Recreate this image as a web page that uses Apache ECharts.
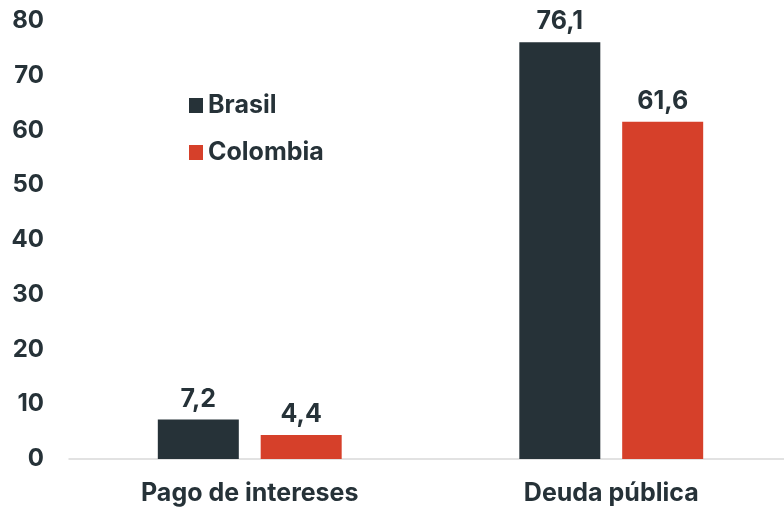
<!DOCTYPE html>
<html>
<head>
<meta charset="utf-8">
<script src="https://cdn.jsdelivr.net/npm/echarts@6/dist/echarts.min.js"></script>
<style>
  html, body { margin: 0; padding: 0; background: #fff; }
  #chart { width: 784px; height: 510px; }
</style>
</head>
<body>
<div id="chart"></div>
<script>
const categories = ["Pago de intereses", "Deuda pública"]
const brasil = [7.2, 76.1]
const colombia = [4.4, 61.6]
const seriesNames = ["Brasil", "Colombia"]

const textColor = "#263238"
const font = "Inter"

const label = {
  show: true,
  position: "top",
  distance: 8,
  color: textColor,
  fontFamily: font,
  fontWeight: 700,
  fontSize: 25,
  formatter: (p) => String(p.value).replace(".", ",")
}

const chart = echarts.init(document.getElementById("chart"))
chart.setOption({
  animation: false,
  grid: { left: 69, top: 21, width: 723, bottom: 51, containLabel: false, outerBoundsMode: "none" },
  legend: {
    orient: "vertical",
    left: 189,
    top: 93,
    padding: 0,
    itemWidth: 14,
    itemHeight: 15,
    itemGap: 22,
    icon: "rect",
    textStyle: { color: textColor, fontFamily: font, fontWeight: 700, fontSize: 25, lineHeight: 24 },
    data: seriesNames
  },
  xAxis: {
    type: "category",
    data: categories,
    axisLine: { lineStyle: { color: "#d9d9d9", width: 1.5 } },
    axisTick: { show: false },
    axisLabel: { color: textColor, fontFamily: font, fontWeight: 700, fontSize: 25, margin: 22 }
  },
  yAxis: {
    type: "value",
    min: 0,
    max: 80,
    interval: 10,
    splitLine: { show: false },
    axisLabel: { color: textColor, fontFamily: font, fontWeight: 700, fontSize: 24, margin: 25 }
  },
  series: [
    {
      name: seriesNames[0],
      type: "bar",
      data: brasil,
      barWidth: 81,
      barGap: "27%",
      itemStyle: { color: "#263238" },
      label: label
    },
    {
      name: seriesNames[1],
      type: "bar",
      data: colombia,
      barWidth: 81,
      itemStyle: { color: "#d6402a" },
      label: label
    }
  ]
})
</script>
</body>
</html>
